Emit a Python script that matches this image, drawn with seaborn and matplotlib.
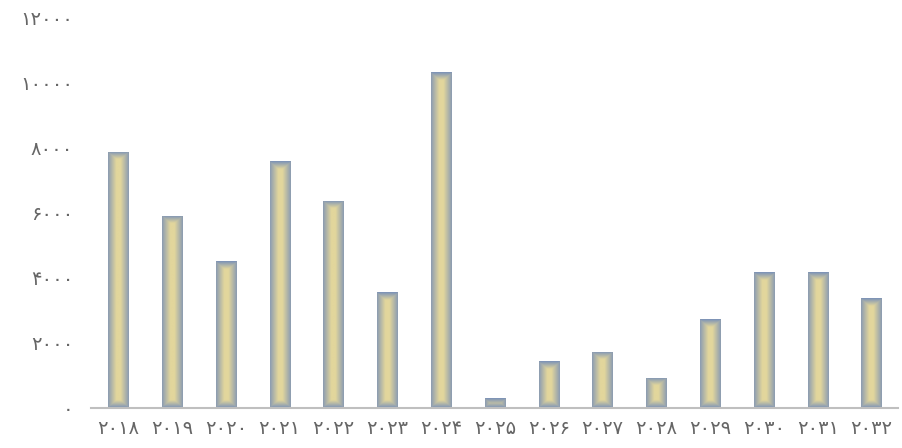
import numpy as np
import pandas as pd
import matplotlib
matplotlib.use("Agg")
import matplotlib.pyplot as plt
import seaborn as sns
from matplotlib.colors import to_rgb

# Yearly values
years = ["2018", "2019", "2020", "2021", "2022", "2023", "2024", "2025",
         "2026", "2027", "2028", "2029", "2030", "2031", "2032"]
values = [7870, 5900, 4500, 7580, 6360, 3550, 10300, 300,
          1440, 1730, 930, 2720, 4170, 4170, 3370]
y_ticks = [0, 2000, 4000, 6000, 8000, 10000, 12000]

PERSIAN = str.maketrans("0123456789", "۰۱۲۳۴۵۶۷۸۹")


def fa(s):
    return str(s).translate(PERSIAN)


df = pd.DataFrame({"year": years, "value": values})

sns.set_theme(style="white")
plt.rcParams["font.family"] = ["DejaVu Sans"]

fig = plt.figure(figsize=(9.03, 4.48), dpi=100)
ax = fig.add_axes([0.1012, 0.0893, 0.8937, 0.8727])

sns.barplot(data=df, x="year", y="value", color="#e0d49c", width=0.372,
            ax=ax, saturation=1)

ax.set_ylim(0, 12000)
ax.set_xlim(-0.5, len(years) - 0.5)
ax.set_xlabel("")
ax.set_ylabel("")
ax.set_yticks(y_ticks)
ax.set_yticklabels([fa(t) for t in y_ticks])
ax.set_xticks(range(len(years)))
ax.set_xticklabels([fa(y) for y in years])
ax.tick_params(axis="both", length=0, labelsize=14, colors="#666666")
ax.tick_params(axis="y", pad=13)
ax.tick_params(axis="x", pad=8)

for side in ["top", "right", "left"]:
    ax.spines[side].set_visible(False)
ax.spines["bottom"].set_color("#bfbfbf")
ax.spines["bottom"].set_linewidth(1.5)
ax.grid(False)

# Path gradient fill: blue at top/bottom edges, grey-blue at the sides,
# pale gold toward the centre
edge_tb = np.array(to_rgb("#7890b8"))
edge_side = np.array(to_rgb("#8a9bb2"))
centre = np.array(to_rgb("#e2d69c"))
fig.canvas.draw()
for patch in ax.patches:
    x0, y0 = patch.get_x(), patch.get_y()
    w, h = patch.get_width(), patch.get_height()
    (px0, py0), (px1, py1) = ax.transData.transform([(x0, y0), (x0 + w, y0 + h)])
    wpx = max(int(round(px1 - px0)), 2) * 4
    hpx = max(int(round(py1 - py0)), 2) * 4
    xs = (np.arange(wpx) + 0.5) / 4
    ys = (np.arange(hpx) + 0.5) / 4
    dx = np.broadcast_to(np.minimum(xs, wpx / 4 - xs)[None, :], (hpx, wpx))
    dy = np.broadcast_to(np.minimum(ys, hpx / 4 - ys)[:, None], (hpx, wpx))
    d = np.minimum(dx, dy)
    edge = np.where((dy < dx)[..., None], edge_tb, edge_side)
    t = np.clip(d / 8.0, 0, 1)
    img = edge * (1 - t[..., None]) + centre[None, None, :] * t[..., None]
    im = ax.imshow(img, extent=(x0, x0 + w, y0, y0 + h), aspect="auto",
                   interpolation="bilinear", zorder=patch.get_zorder() + 0.1,
                   origin="lower")
    im.set_clip_path(patch)
    patch.set_edgecolor("none")
    patch.set_linewidth(0)

ax.set_xlim(-0.5, len(years) - 0.5)
ax.set_ylim(0, 12000)

fig.savefig("out.png", dpi=100)
